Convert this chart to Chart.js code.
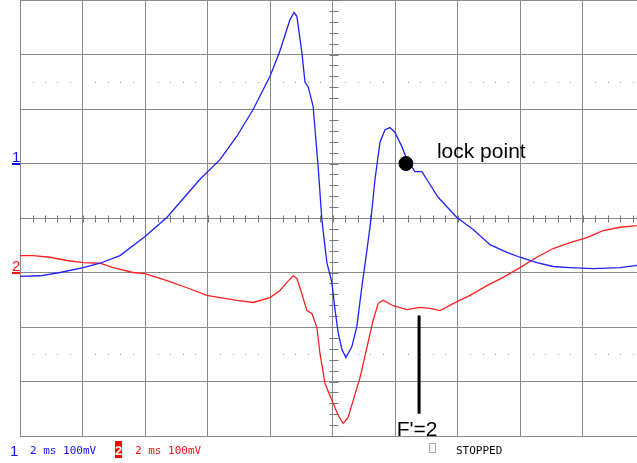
<!DOCTYPE html>
<html>
<head>
<meta charset="utf-8">
<script src="https://cdn.jsdelivr.net/npm/chart.js@4/dist/chart.umd.min.js"></script>
<style>
  html, body { margin: 0; padding: 0; background: #fff; overflow: hidden; }
  canvas { display: block; }
</style>
</head>
<body>
<canvas id="scope" width="660" height="463"></canvas>
<script>
// time in ms (trigger at 0, 2 ms/div), values in mV relative to each channel's ground
let ch1Time = [-10, -9.36, -8.72, -7.98, -7.44, -6.8, -6.0, -5.3, -4.24, -3.6,
  -3.06, -2.54, -2.0, -1.68, -1.36, -1.23, -1.14, -0.98, -0.88, -0.78,
  -0.62, -0.46, -0.34, -0.18, -0.02, 0.08, 0.18, 0.3, 0.43, 0.62,
  0.78, 0.94, 1.1, 1.23, 1.36, 1.52, 1.68, 1.84, 2.0, 2.22,
  2.38, 2.64, 2.86, 3.06, 3.38, 3.98, 4.5, 5.04, 5.58, 6.0,
  6.54, 7.06, 7.6, 8.34, 9.2, 9.74, 10.0];
let ch1Values = [-207, -206, -200, -191, -183, -169, -134, -99, -29, 7,
  50, 99, 160, 207, 264, 277, 270, 204, 149, 141,
  105, -6, -103, -182, -218, -268, -310, -341, -356, -336,
  -299, -226, -160, -103, -29, 39, 62, 66, 57, 31,
  7, -15, -15, -33, -62, -99, -121, -149, -163, -172,
  -182, -189, -191, -193, -191, -187, -185];

let ch2Time = [-10, -9.58, -9.04, -8.5, -7.98, -7.44, -7.02, -6.38, -6.0, -5.3,
  -4.66, -4.02, -3.6, -3.06, -2.54, -2.0, -1.68, -1.46, -1.26, -1.14,
  -0.98, -0.82, -0.66, -0.5, -0.4, -0.24, -0.08, 0.08, 0.18, 0.34,
  0.5, 0.66, 0.88, 1.1, 1.3, 1.46, 1.62, 1.94, 2.38, 2.8,
  3.12, 3.44, 3.86, 4.4, 4.94, 5.46, 6.0, 6.54, 7.06, 7.6,
  8.14, 8.66, 9.2, 9.74, 10.0];
let ch2Values = [31, 31, 28, 22, 18, 17, 9, 0, -2, -15,
  -28, -42, -46, -51, -55, -46, -33, -18, -6, -11,
  -39, -70, -75, -101, -149, -204, -226, -248, -262, -277,
  -266, -235, -193, -138, -88, -57, -51, -61, -68, -64,
  -66, -70, -57, -42, -24, -9, 9, 28, 44, 55,
  64, 77, 83, 86, 88];

let lockTime = 2.35;
let lockValue = 0;
let lockLabel = 'lock point';
let markerTime = 2.77;
let markerValues = [-79, -259];
let markerLabel = "F'=2";
let statusText = ['1', '2 ms 100mV', '2', '2 ms 100mV', 'STOPPED'];

function toPoints(ts, vs) {
    return ts.map((t, i) => ({ x: t, y: vs[i] }));
}

const scopeDecor = {
    id: 'scopeDecor',
    beforeDatasetsDraw(chart) {
        let ctx = chart.ctx;
        let x = chart.scales.x, y = chart.scales.y;
        let cx = Math.round(x.getPixelForValue(0)) + 0.5;
        let cy = Math.round(y.getPixelForValue(-100)) + 0.5;
        ctx.save();
        ctx.strokeStyle = '#777';
        ctx.lineWidth = 1;
        ctx.beginPath();
        for (let i = 0; i <= 50; i++) {
            let px = Math.round(x.getPixelForValue(-10 + i * 0.4)) + 0.5;
            ctx.moveTo(px, cy - 3);
            ctx.lineTo(px, cy + 4);
        }
        for (let i = 0; i <= 40; i++) {
            let py = Math.round(y.getPixelForValue(-500 + i * 20)) + 0.5;
            ctx.moveTo(cx - 4, py);
            ctx.lineTo(cx + 5, py);
        }
        ctx.stroke();
        // dotted half-division lines
        ctx.fillStyle = '#999';
        [150, -350].forEach(v => {
            let py = Math.round(y.getPixelForValue(v));
            for (let i = 0; i <= 50; i++) {
                if (i % 5 === 0) continue;
                let px = Math.round(x.getPixelForValue(-10 + i * 0.4));
                ctx.fillRect(px, py, 1, 1);
            }
        });
        ctx.restore();
    },
    afterDraw(chart) {
        let ctx = chart.ctx;
        let x = chart.scales.x, y = chart.scales.y, y2 = chart.scales.y2;
        ctx.save();

        // channel ground markers
        let g1 = Math.round(y.getPixelForValue(0));
        let g2 = Math.round(y2.getPixelForValue(0));
        ctx.font = '15px "Liberation Sans"';
        ctx.textAlign = 'left';
        ctx.textBaseline = 'alphabetic';
        ctx.fillStyle = '#1010ff';
        ctx.fillText('1', 12, g1 - 2);
        ctx.fillRect(12, g1 - 1, 8, 2);
        ctx.fillStyle = '#ff1010';
        ctx.fillText('2', 12, g2 - 2);
        ctx.fillRect(12, g2 - 1, 8, 2);

        // annotations
        ctx.fillStyle = '#000';
        ctx.font = '21px "Liberation Sans"';
        ctx.fillText(lockLabel, x.getPixelForValue(lockTime) + 31, y.getPixelForValue(lockValue) - 6);
        ctx.textAlign = 'center';
        ctx.fillText(markerLabel, x.getPixelForValue(markerTime) - 2, y2.getPixelForValue(markerValues[1]) + 22);

        // status line
        ctx.textAlign = 'left';
        ctx.font = '15px "Liberation Sans"';
        ctx.fillStyle = '#1010ff';
        ctx.fillText(statusText[0], 10, 456);
        ctx.fillStyle = '#ff0000';
        ctx.fillRect(115, 441, 7, 17);
        ctx.fillStyle = '#fff';
        ctx.font = 'bold 13px "Liberation Sans"';
        ctx.fillText(statusText[2], 115, 455);
        ctx.font = '11px "DejaVu Sans Mono"';
        ctx.fillStyle = '#1010ff';
        ctx.fillText(statusText[1], 30, 454);
        ctx.fillStyle = '#ff1010';
        ctx.fillText(statusText[3], 135, 454);
        ctx.fillStyle = '#000';
        ctx.fillText(statusText[4], 456, 454);
        ctx.strokeStyle = '#aaa';
        ctx.lineWidth = 1;
        ctx.strokeRect(429.5, 443.5, 6, 9);
        ctx.restore();
    }
};

let ctx = document.getElementById('scope').getContext('2d');
let chart = new Chart(ctx, {
    type: 'line',
    data: {
        datasets: [{
            data: [{ x: lockTime, y: lockValue }],
            yAxisID: 'y',
            showLine: false,
            pointRadius: 7,
            pointBackgroundColor: '#000',
            pointBorderColor: '#000'
        }, {
            data: markerValues.map(v => ({ x: markerTime, y: v })),
            yAxisID: 'y2',
            borderColor: '#000',
            borderWidth: 3,
            pointRadius: 0
        }, {
            data: toPoints(ch1Time, ch1Values),
            yAxisID: 'y',
            borderColor: '#2020ff',
            borderWidth: 1.3,
            pointRadius: 0,
            tension: 0
        }, {
            data: toPoints(ch2Time, ch2Values),
            yAxisID: 'y2',
            borderColor: '#ff2020',
            borderWidth: 1.3,
            pointRadius: 0,
            tension: 0
        }]
    },
    options: {
        responsive: false,
        animation: false,
        layout: { autoPadding: false, padding: { left: 20, right: 15, top: 0, bottom: 27 } },
        plugins: { legend: { display: false }, tooltip: { enabled: false } },
        scales: {
            x: {
                type: 'linear', min: -10, max: 10,
                ticks: { stepSize: 2, display: false },
                grid: { color: '#888', drawTicks: false },
                border: { display: false }
            },
            y: {
                min: -500, max: 300,
                ticks: { stepSize: 100, display: false },
                grid: { color: '#888', drawTicks: false },
                border: { display: false }
            },
            y2: {
                min: -300, max: 500, display: false
            }
        }
    },
    plugins: [scopeDecor]
});
</script>
</body>
</html>
